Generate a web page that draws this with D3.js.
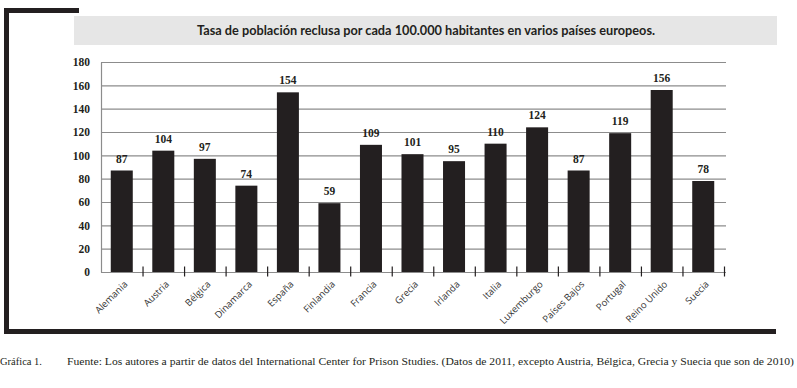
<!DOCTYPE html>
<html>
<head>
<meta charset="utf-8">
<script src="https://cdn.jsdelivr.net/npm/d3@7"></script>
<style>
  body { margin: 0; background: #fff; }
  svg { display: block; }
</style>
</head>
<body>
<div id="chart"></div>
<script>
const countries = ['Alemania', 'Austria', 'Bélgica', 'Dinamarca', 'España', 'Finlandia', 'Francia',
  'Grecia', 'Irlanda', 'Italia', 'Luxemburgo', 'Países Bajos', 'Portugal', 'Reino Unido', 'Suecia']
const rates = [87, 104, 97, 74, 154, 59, 109, 101, 95, 110, 124, 87, 119, 156, 78]
const yTicks = [0, 20, 40, 60, 80, 100, 120, 140, 160, 180]
const title = 'Tasa de población reclusa por cada 100.000 habitantes en varios países europeos.'
const figLabel = 'Gráfica 1.'
const source = 'Fuente: Los autores a partir de datos del International Center for Prison Studies. (Datos de 2011, excepto Austria, Bélgica, Grecia y Suecia que son de 2010)'

const width = 797, height = 388
const margin = { top: 62, right: 72, bottom: 116, left: 101 }
const ink = '#231f20'

const svg = d3.select('#chart').append('svg')
  .attr('width', width)
  .attr('height', height)

// frame
const frame = svg.append('g').attr('fill', ink)
frame.append('rect').attr('x', 4).attr('y', 8).attr('width', 5).attr('height', 326)
frame.append('rect').attr('x', 4).attr('y', 8).attr('width', 75).attr('height', 5)
frame.append('rect').attr('x', 4).attr('y', 329).attr('width', 772).attr('height', 5)

// title band
svg.append('rect')
  .attr('x', 74).attr('y', 16).attr('width', 703).attr('height', 29)
  .attr('fill', '#e6e6e6')
svg.append('text')
  .attr('x', 426).attr('y', 35)
  .attr('text-anchor', 'middle')
  .attr('font-family', 'Lato, sans-serif')
  .attr('font-weight', 'bold')
  .attr('font-size', 12.5)
  .attr('fill', ink)
  .attr('textLength', 458)
  .attr('lengthAdjust', 'spacingAndGlyphs')
  .text(title)

const x = d3.scaleBand()
  .domain(countries)
  .range([margin.left, width - margin.right - 1])
  .paddingInner(0.47)
  .paddingOuter(0.235)

const y = d3.scaleLinear()
  .domain([0, 180])
  .range([height - margin.bottom, margin.top])

// grid
svg.append('g')
  .selectAll('line')
  .data(yTicks.slice(1))
  .join('line')
  .attr('x1', margin.left).attr('x2', width - margin.right + 1)
  .attr('y1', d => y(d) + 0.5).attr('y2', d => y(d) + 0.5)
  .attr('stroke', '#8c8c8c')
  .attr('stroke-width', 1.2)

// y axis
const yAxis = svg.append('g')
  .attr('transform', `translate(${margin.left},0)`)
  .call(d3.axisLeft(y).tickValues(yTicks).tickSize(0).tickPadding(11))
yAxis.select('.domain').attr('stroke', '#8c8c8c').attr('stroke-width', 1.2)
yAxis.selectAll('text')
  .attr('font-family', '"Liberation Serif", serif')
  .attr('font-weight', 'bold')
  .attr('font-size', 11.5)
  .attr('fill', ink)

// bars
svg.append('g')
  .selectAll('rect')
  .data(countries.map((c, i) => ({ c, v: rates[i] })))
  .join('rect')
  .attr('x', d => x(d.c))
  .attr('width', x.bandwidth())
  .attr('y', d => y(d.v))
  .attr('height', d => y(0) - y(d.v))
  .attr('fill', ink)

// value labels
svg.append('g')
  .selectAll('text')
  .data(countries.map((c, i) => ({ c, v: rates[i] })))
  .join('text')
  .attr('x', d => x(d.c) + x.bandwidth() / 2)
  .attr('y', d => y(d.v) - 8)
  .attr('text-anchor', 'middle')
  .attr('font-family', '"Liberation Serif", serif')
  .attr('font-weight', 'bold')
  .attr('font-size', 11.5)
  .attr('fill', ink)
  .text(d => d.v)

// x axis with ticks between categories
const step = x.step()
const xAxisG = svg.append('g').attr('transform', `translate(0,${y(0) + 0.5})`)
xAxisG.append('line')
  .attr('x1', margin.left).attr('x2', width - margin.right + 1)
  .attr('stroke', '#8c8c8c').attr('stroke-width', 1.2)
xAxisG.selectAll('line.tick')
  .data(countries.map((c, i) => i + 1))
  .join('line')
  .attr('class', 'tick')
  .attr('x1', i => margin.left + i * step + 0.5)
  .attr('x2', i => margin.left + i * step + 0.5)
  .attr('y1', -6).attr('y2', 4)
  .attr('stroke', ink).attr('stroke-width', 1.2)
xAxisG.selectAll('text')
  .data(countries)
  .join('text')
  .attr('transform', d => `translate(${x(d) + x.bandwidth() / 2 + 4},${10}) rotate(-45)`)
  .attr('text-anchor', 'end')
  .attr('dy', '0.35em')
  .attr('font-family', '"Open Sans", sans-serif')
  .attr('font-size', 9.5)
  .attr('fill', '#333')
  .text(d => d)

// caption
const caption = svg.append('g')
  .attr('font-family', '"Liberation Serif", serif')
  .attr('font-size', 10.5)
  .attr('fill', ink)
caption.append('text').attr('x', 0).attr('y', 365).text(figLabel)
caption.append('text')
  .attr('x', 67).attr('y', 365)
  .attr('textLength', 727)
  .attr('lengthAdjust', 'spacingAndGlyphs')
  .text(source)
</script>
</body>
</html>
